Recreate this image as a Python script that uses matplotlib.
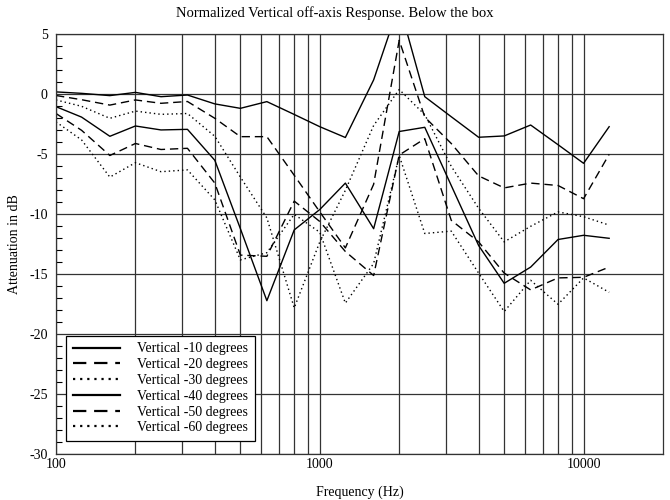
import matplotlib
matplotlib.use("Agg")
import matplotlib.pyplot as plt
from matplotlib.ticker import FixedLocator, NullFormatter, MultipleLocator

# Frecuencias en tercios de octava (Hz)
frecuencias = [100, 125, 160, 200, 250, 315, 400, 500, 630, 800, 1000,
               1250, 1600, 2000, 2500, 3150, 4000, 5000, 6300, 8000, 10000, 12500]

# Atenuacion en dB
vert_10 = [0.2, 0.08, -0.11, 0.16, -0.2, -0.06, -0.8, -1.17, -0.61, -1.68, -2.7,
           -3.6, 1.2, 7.5, -0.2, -1.87, -3.58, -3.47, -2.56, -4.2, -5.75, -2.7]
vert_20 = [-0.1, -0.45, -0.9, -0.47, -0.75, -0.6, -2.0, -3.53, -3.53, -6.75, -9.8,
           -12.8, -7.5, 4.5, -1.9, -4.1, -6.8, -7.8, -7.4, -7.6, -8.7, -5.0]
vert_30 = [-0.47, -1.0, -2.0, -1.4, -1.67, -1.6, -3.5, -6.9, -10.3, -17.8, -12.3,
           -8.0, -2.6, 0.4, -1.7, -6.0, -9.5, -12.3, -11.0, -9.8, -10.2, -10.9]
vert_40 = [-1.03, -1.9, -3.5, -2.64, -2.97, -2.92, -5.5, -11.2, -17.2, -11.3, -9.6,
           -7.4, -11.2, -3.1, -2.75, -7.6, -12.6, -15.75, -14.4, -12.1, -11.75, -12.0]
vert_50 = [-1.6, -3.0, -5.1, -4.1, -4.6, -4.5, -7.4, -13.4, -13.5, -8.9, -10.6,
           -13.1, -15.1, -5.06, -3.7, -10.5, -12.3, -14.9, -16.3, -15.3, -15.25, -14.4]
vert_60 = [-2.3, -3.8, -6.9, -5.7, -6.45, -6.3, -8.8, -13.8, -13.2, -10.0, -11.5,
           -17.4, -14.1, -5.1, -11.6, -11.4, -14.9, -18.1, -15.5, -17.5, -15.3, -16.5]

etiquetas = ["Vertical -10 degrees", "Vertical -20 degrees", "Vertical -30 degrees",
             "Vertical -40 degrees", "Vertical -50 degrees", "Vertical -60 degrees"]

plt.rcParams["font.family"] = ["Liberation Serif", "DejaVu Serif"]
plt.rcParams["font.size"] = 10
plt.rcParams["axes.unicode_minus"] = False

fig = plt.figure(figsize=(6.7, 5.0), dpi=100)
ax = fig.add_axes([56 / 670, 45.7 / 500, 607 / 670, 420 / 500])

estilo_guion = (0, (6, 3.5))
estilo_punto = (0, (1, 2.2))

series = [vert_10, vert_20, vert_30, vert_40, vert_50, vert_60]
estilos = ["-", estilo_guion, estilo_punto, "-", estilo_guion, estilo_punto]

for valores, estilo, etiqueta in zip(series, estilos, etiquetas):
    ax.plot(frecuencias, valores, color="black", linestyle=estilo,
            linewidth=1.0, label=etiqueta)

ax.set_xscale("log")
ax.set_xlim(100, 20000)
ax.set_ylim(-30, 5)

ax.xaxis.set_major_locator(FixedLocator([100, 1000, 10000]))
ax.set_xticklabels(["100", "1000", "10000"])
menores = [m * d for d in (100, 1000) for m in range(2, 10)]
ax.xaxis.set_minor_locator(FixedLocator(menores))
ax.xaxis.set_minor_formatter(NullFormatter())

ax.yaxis.set_major_locator(MultipleLocator(5))
ax.yaxis.set_minor_locator(MultipleLocator(1))

ax.grid(True, which="major", axis="both", color="0.2", linewidth=0.9)
ax.grid(True, which="minor", axis="x", color="0.2", linewidth=0.9)

ax.tick_params(axis="x", which="both", length=0, pad=3)
ax.tick_params(axis="y", which="major", length=0, pad=6)
ax.tick_params(axis="y", which="minor", direction="in", length=4, width=0.8)

for lado in ax.spines.values():
    lado.set_color("0.2")
    lado.set_linewidth(0.9)

fig.text(0.5, 1 - 13 / 500, "Normalized Vertical off-axis Response. Below the box",
         ha="center", va="center", fontsize=10.5)
ax.set_xlabel("Frequency (Hz)", labelpad=10)
ax.set_ylabel("Attenuation in dB", labelpad=6)

leyenda = ax.legend(loc="lower left", bbox_to_anchor=(10 / 607, 13 / 420),
                    borderaxespad=0, frameon=True, fancybox=False,
                    edgecolor="black", framealpha=1, handlelength=3.4,
                    handletextpad=1.2, borderpad=0.5, labelspacing=0.2)
leyenda.get_frame().set_linewidth(0.9)
for linea in leyenda.get_lines():
    linea.set_linewidth(1.6)

fig.savefig("out.png", dpi=100)
